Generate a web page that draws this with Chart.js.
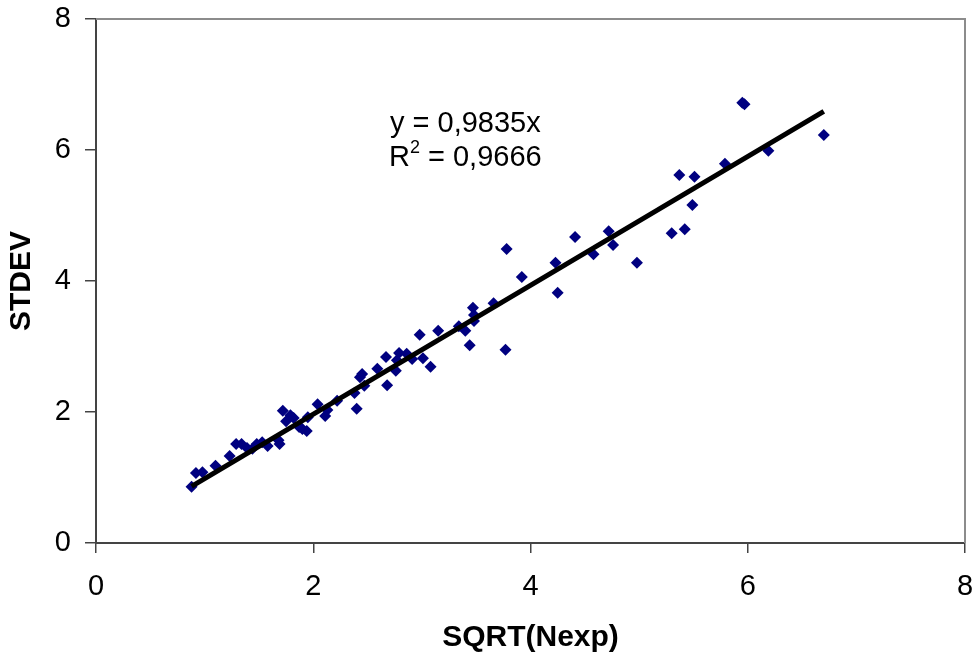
<!DOCTYPE html>
<html>
<head>
<meta charset="utf-8">
<script src="https://cdn.jsdelivr.net/npm/chart.js@4/dist/chart.umd.min.js"></script>
<style>
  html, body { margin: 0; padding: 0; background: #fff; }
  #wrap { width: 976px; height: 660px; }
</style>
</head>
<body>
<div id="wrap"><canvas id="stdevChart" width="976" height="660"></canvas></div>
<script>
// SQRT(Nexp) values
const sqrtNexp = [
  0.88, 0.92, 0.98, 1.10, 1.23, 1.29, 1.34, 1.39, 1.44, 1.48,
  1.53, 1.58, 1.68, 1.69, 1.72, 1.75, 1.79, 1.82, 1.87, 1.90,
  1.94, 1.95, 2.04, 2.11, 2.13, 2.22, 2.38, 2.40, 2.43, 2.45,
  2.47, 2.59, 2.67, 2.68, 2.76, 2.77, 2.79, 2.86, 2.91, 2.98,
  3.01, 3.08, 3.15, 3.34, 3.40, 3.44, 3.47, 3.48, 3.48, 3.66,
  3.78, 3.77, 3.92, 4.23, 4.25, 4.41, 4.58, 4.72, 4.76, 4.98,
  5.30, 5.37, 5.42, 5.49, 5.51, 5.79, 5.95, 5.97, 6.19, 6.70
];
// STDEV values
const stdev = [
  0.86, 1.07, 1.08, 1.18, 1.33, 1.51, 1.51, 1.45, 1.44, 1.51,
  1.54, 1.48, 1.57, 1.51, 2.02, 1.86, 1.95, 1.91, 1.77, 1.74,
  1.71, 1.92, 2.12, 1.94, 2.03, 2.17, 2.29, 2.05, 2.53, 2.58,
  2.40, 2.66, 2.84, 2.41, 2.63, 2.79, 2.90, 2.89, 2.81, 3.18,
  2.82, 2.69, 3.24, 3.31, 3.24, 3.02, 3.59, 3.48, 3.39, 3.66,
  4.49, 2.95, 4.06, 4.28, 3.82, 4.67, 4.41, 4.76, 4.55, 4.28,
  4.73, 5.62, 4.79, 5.16, 5.59, 5.79, 6.72, 6.70, 5.99, 6.23
];
const slope = 0.9835;
const r2 = '0,9666';
const axisTicks = [0, 2, 4, 6, 8];

const points = sqrtNexp.map((x, i) => ({ x: x, y: stdev[i] }));
const xMin = Math.min(...sqrtNexp);
const xMax = Math.max(...sqrtNexp);
const trend = [{ x: xMin, y: slope * xMin }, { x: xMax, y: slope * xMax }];

const textFont = '"Liberation Sans", Arial, sans-serif';

// gray frame on top and right of the plot area
const frameLines = {
  id: 'frameLines',
  afterDraw(chart) {
    const a = chart.chartArea;
    const ctx = chart.ctx;
    ctx.save();
    ctx.strokeStyle = '#8c8c8c';
    ctx.lineWidth = 2;
    ctx.beginPath();
    ctx.moveTo(a.left, a.top);
    ctx.lineTo(a.right, a.top);
    ctx.lineTo(a.right, a.bottom);
    ctx.stroke();
    ctx.restore();
  }
};

// trendline equation text
const eqLabel = {
  id: 'eqLabel',
  afterDraw(chart) {
    const ctx = chart.ctx;
    const xs = chart.scales.x, ys = chart.scales.y;
    const cx = xs.getPixelForValue(3.4);
    ctx.save();
    ctx.fillStyle = '#000';
    ctx.textBaseline = 'middle';
    ctx.font = '29px ' + textFont;
    ctx.textAlign = 'center';
    ctx.fillText('y = ' + String(slope).replace('.', ',') + 'x', cx, ys.getPixelForValue(6.4));

    const y2 = ys.getPixelForValue(5.88);
    const rest = ' = ' + r2;
    const wR = ctx.measureText('R').width;
    const wRest = ctx.measureText(rest).width;
    ctx.font = '18px ' + textFont;
    const wSup = ctx.measureText('2').width;
    let x0 = cx - (wR + wSup + wRest) / 2;
    ctx.textAlign = 'left';
    ctx.font = '29px ' + textFont;
    ctx.fillText('R', x0, y2);
    ctx.font = '18px ' + textFont;
    ctx.fillText('2', x0 + wR, y2 - 10);
    ctx.font = '29px ' + textFont;
    ctx.fillText(rest, x0 + wR + wSup, y2);
    ctx.restore();
  }
};

new Chart(document.getElementById('stdevChart'), {
  type: 'scatter',
  data: {
    datasets: [
      {
        label: 'STDEV',
        data: points,
        pointStyle: 'rectRot',
        pointRadius: 6,
        pointBackgroundColor: '#000080',
        pointBorderColor: '#000080',
        pointBorderWidth: 0,
        order: 2
      },
      {
        label: 'trend',
        type: 'line',
        data: trend,
        borderColor: '#000',
        borderWidth: 5,
        pointRadius: 0,
        fill: false,
        order: 1
      }
    ]
  },
  options: {
    responsive: false,
    animation: false,
    layout: { padding: { left: 0, right: 11, top: 19, bottom: 0 } },
    plugins: {
      legend: { display: false },
      tooltip: { enabled: false }
    },
    scales: {
      x: {
        type: 'linear',
        min: 0, max: 8,
        afterBuildTicks(axis) { axis.ticks = axisTicks.map(v => ({ value: v })); },
        afterFit(axis) { axis.height = 117; axis.paddingLeft = 0; axis.paddingRight = 0; },
        grid: { drawOnChartArea: false, tickLength: 10, color: '#444', lineWidth: 1.5 },
        border: { color: '#444', width: 2 },
        ticks: { color: '#000', padding: 17, font: { family: textFont, size: 29 } },
        title: {
          display: true, text: 'SQRT(Nexp)', color: '#000',
          padding: { top: 0, bottom: 4 },
          font: { family: textFont, size: 30, weight: 'bold', lineHeight: 1.2 }
        }
      },
      y: {
        type: 'linear',
        min: 0, max: 8,
        afterBuildTicks(axis) { axis.ticks = axisTicks.map(v => ({ value: v })); },
        afterFit(axis) { axis.width = 96; axis.paddingTop = 0; axis.paddingBottom = 0; },
        grid: { drawOnChartArea: false, tickLength: 11, color: '#444', lineWidth: 1.5 },
        border: { color: '#444', width: 2 },
        ticks: { color: '#000', padding: 14, font: { family: textFont, size: 29 } },
        title: {
          display: true, text: 'STDEV', color: '#000',
          padding: { top: 4, bottom: 0 },
          font: { family: textFont, size: 30, weight: 'bold', lineHeight: 1.2 }
        }
      }
    }
  },
  plugins: [frameLines, eqLabel]
});
</script>
</body>
</html>
